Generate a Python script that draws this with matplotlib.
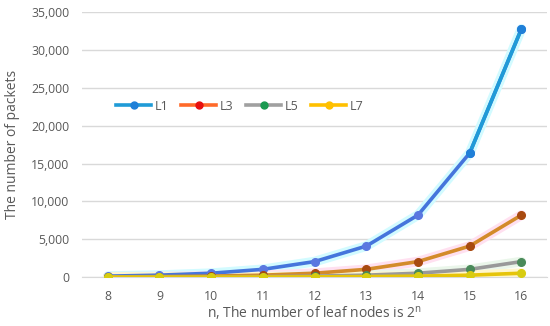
import matplotlib.pyplot as plt
from matplotlib.ticker import FuncFormatter

# leaf-node exponent n and packet counts per level
n_vals = [8, 9, 10, 11, 12, 13, 14, 15, 16]
l1 = [128, 256, 512, 1024, 2048, 4096, 8192, 16384, 32768]
l3 = [32, 64, 128, 256, 512, 1024, 2048, 4096, 8192]
l5 = [8, 16, 32, 64, 128, 256, 512, 1024, 2048]
l7 = [2, 4, 8, 16, 32, 64, 128, 256, 512]

# name, values, plot line, plot marker, glow, legend line, legend marker
series = [
    ('L1', l1, '#4575dc', '#5a78e0', '#d2fbff', '#1f9bd7', '#1f80d8'),
    ('L3', l3, '#d38b2a', '#a84a10', '#ffe0f0', '#ff6a2a', '#e81010'),
    ('L5', l5, '#999999', '#4a8a5a', '#eaf6ea', '#a0a0a0', '#1a9a50'),
    ('L7', l7, '#e6c40a', '#d8cc10', '#fff6cc', '#ffc000', '#ffc000'),
]

plt.rcParams['font.family'] = ['Open Sans', 'DejaVu Sans']
fig, ax = plt.subplots(figsize=(5.5, 3.26), dpi=100)
fig.subplots_adjust(left=0.149, right=0.995, top=0.963, bottom=0.15)

for s in series:
    ax.plot(n_vals, s[1], color=s[4], lw=7, zorder=2, solid_capstyle='round')
for s in series:
    ax.plot(n_vals, s[1], color=s[2], lw=2.6, marker='o', ms=5.5,
            mfc=s[3], mec=s[3], label=s[0], zorder=3)

# upper part of L1 is drawn in the lighter blue
ax.plot(n_vals[-2:], l1[-2:], color='#1f9bd7', lw=2.6, marker='o', ms=5.5,
        mfc='#1f80d8', mec='#1f80d8', zorder=4)

ax.set_xlim(7.5, 16.5)
ax.set_ylim(0, 35000)
ax.set_yticks(range(0, 35001, 5000))
ax.set_xticks(n_vals)
ax.yaxis.set_major_formatter(FuncFormatter(lambda v, p: f'{int(v):,}'))
ax.grid(axis='y', color='#d9d9d9', lw=1)
ax.set_axisbelow(True)
for sp in ['top', 'right', 'left']:
    ax.spines[sp].set_visible(False)
ax.spines['bottom'].set_color('#d9d9d9')
ax.tick_params(length=0, colors='#595959', labelsize=8.8, pad=9)

ax.set_xlabel('n, The number of leaf nodes is 2$^{\\mathregular{n}}$', color='#595959', fontsize=10, labelpad=1)
ax.set_ylabel('The number of packets', color='#595959', fontsize=10, labelpad=8)

leg = ax.legend(ncol=4, loc='center left', bbox_to_anchor=(0.05, 0.645), frameon=False,
                fontsize=9, handlelength=2.8, columnspacing=1.0, handletextpad=0.3)
for t, h, s in zip(leg.get_texts(), leg.get_lines(), series):
    t.set_color('#595959')
    h.set_color(s[5])
    h.set_markerfacecolor(s[6])
    h.set_markeredgecolor(s[6])
    h.set_markersize(5)

plt.savefig('out.png')
